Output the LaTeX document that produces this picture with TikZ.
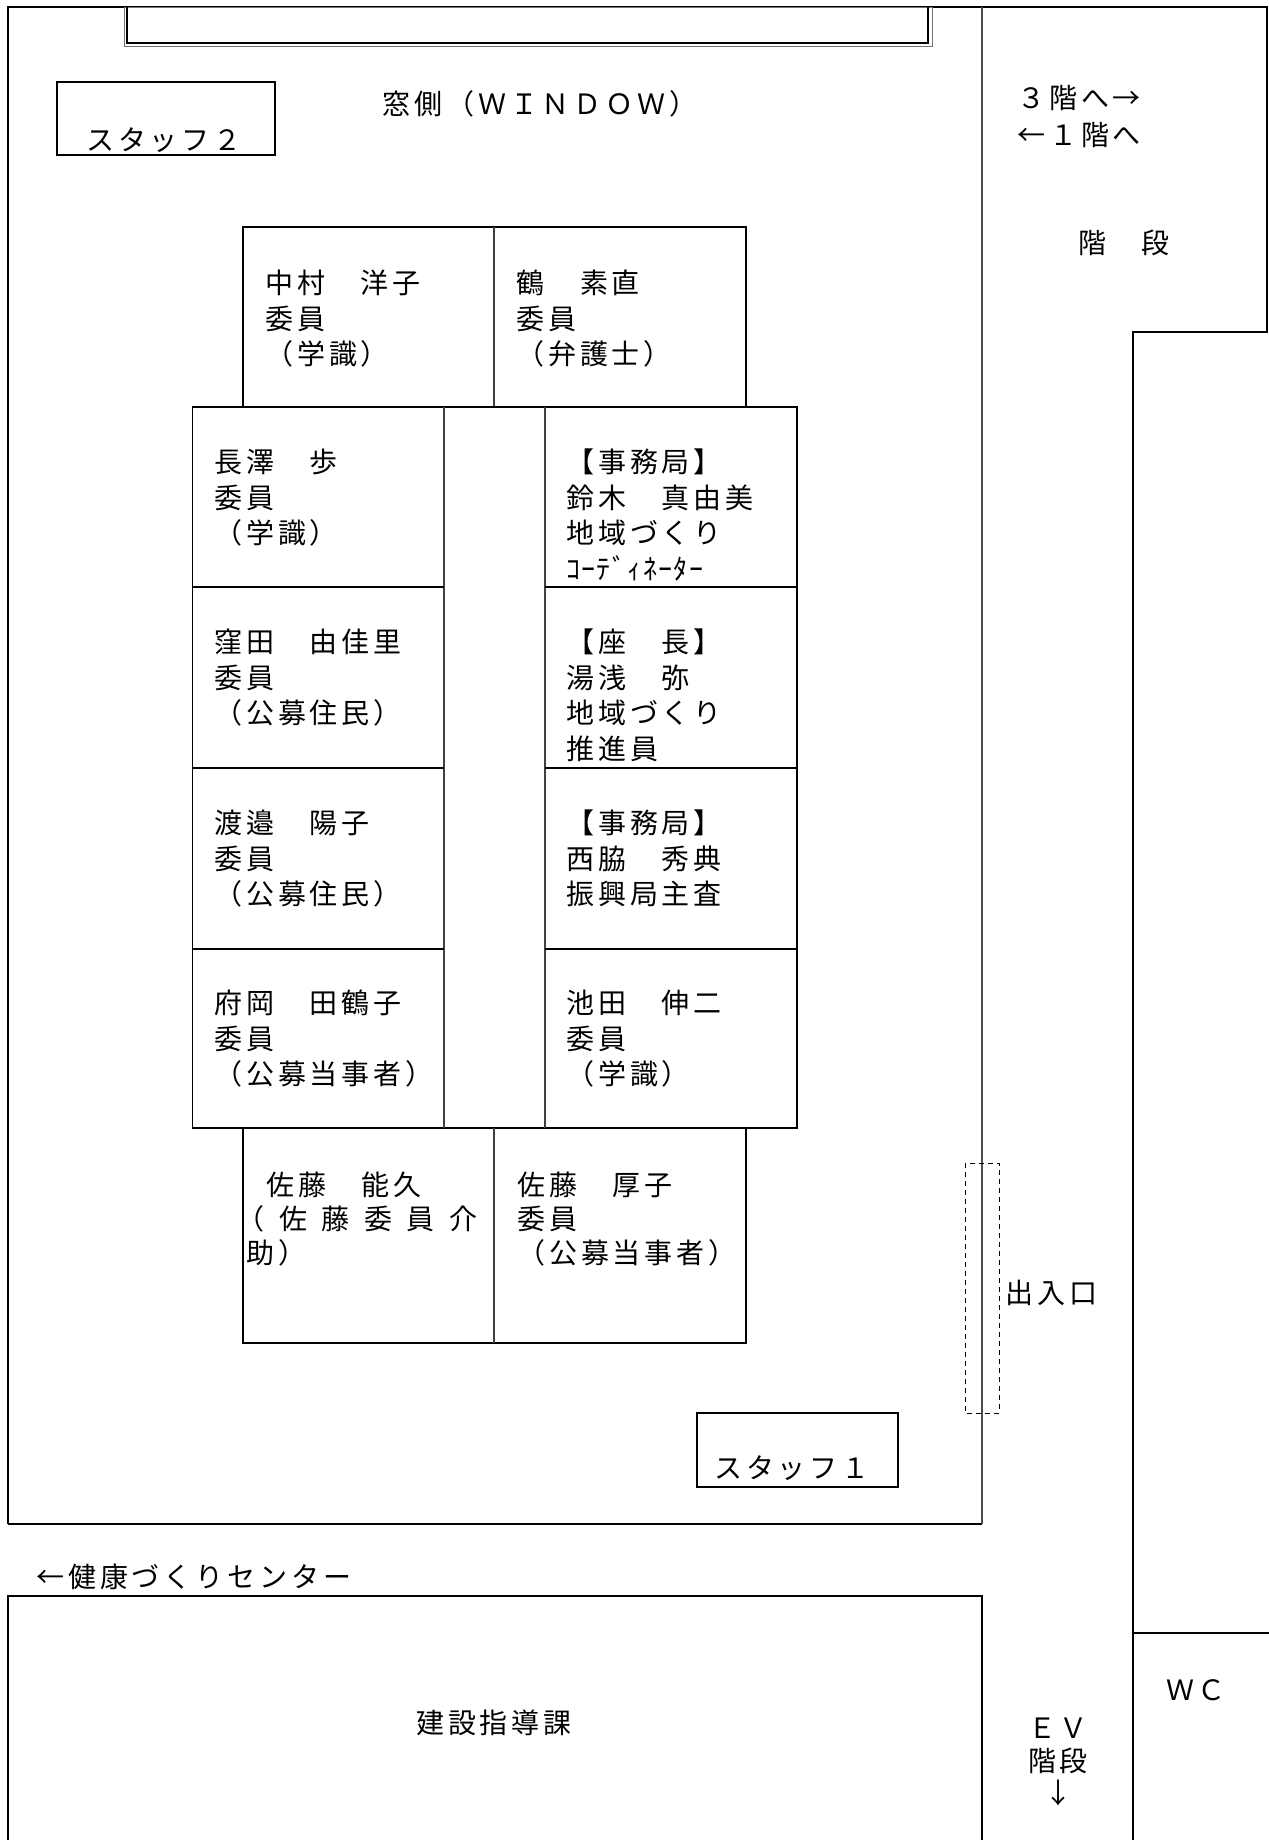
\documentclass[tikz,border=0pt]{standalone}
\usepackage{fontspec}
\setmainfont{Noto Sans CJK JP}[LetterSpace=14]
\newcommand{\seatstrut}{\rule{0pt}{24.7pt}}
\begin{document}
\begin{tikzpicture}[x=1pt,y=-1pt,
  wall/.style={line width=1.6pt,black},
  wallg/.style={line width=1.6pt,black!70},
  tbl/.style={line width=1.6pt,black},
  tbldiv/.style={line width=1.2pt,black!75},
  seat/.style={font=\fontsize{28}{35.5}\selectfont,align=left,anchor=north west,inner sep=0pt},
  lbl/.style={font=\fontsize{28}{32}\selectfont,inner sep=0pt,anchor=center}]
\useasboundingbox[fill=white] (0,0) rectangle (1269,1840);

% walls of the room and the corridor
\draw[wall] (8,1524) -- (8,7) -- (1267,7) -- (1267,332) -- (1133,332) -- (1133,1840);
\draw[line width=2.6pt] (1267,7) -- (1267,43);
\draw[wall] (8,1524) -- (982,1524);
\draw[wallg] (982,7) -- (982,1524);
\draw[wall] (8,1840) -- (8,1596) -- (982,1596) -- (982,1840);
\draw[wall] (1133,1633) -- (1269,1633);

% window box (double frame)
\draw[line width=0.8pt,black!55] (124,7) rectangle (932,46);
\draw[line width=1.6pt] (127,7) -- (127,43) -- (928,43) -- (928,7);

% staff boxes
\draw[wall] (57,82) rectangle (275,155);
\draw[wall] (697,1413) rectangle (898,1487);

% entrance
\draw[line width=1pt,dash pattern=on 5pt off 4pt] (965,1163) rectangle (999,1413);

% tables: top row
\draw[tbl] (243,407) -- (243,227) -- (746,227) -- (746,407);
\draw[tbldiv] (494,227) -- (494,407);
% middle block
\draw[tbl] (192.5,407) rectangle (797,1128);
\draw[tbldiv] (444,407) -- (444,1128);
\draw[tbldiv] (545,407) -- (545,1128);
\foreach \yy in {587,768,949} {
  \draw[tbl] (192.5,\yy) -- (444,\yy);
  \draw[tbl] (545,\yy) -- (797,\yy);
}
% bottom row
\draw[tbl] (243,1128) -- (243,1343) -- (746,1343) -- (746,1128);
\draw[tbldiv] (494,1128) -- (494,1343);

% seat texts
\node[seat] (nakamura) at (265,269) {\seatstrut 中村　洋子\\委員\\（学識）};
\node[seat] (tsuru) at (516,269) {\seatstrut 鶴　素直\\委員\\（弁護士）};
\node[seat] (nagasawa) at (214,448) {\seatstrut 長澤　歩\\委員\\（学識）};
\node[seat] (kubota) at (214,628) {\seatstrut 窪田　由佳里\\委員\\（公募住民）};
\node[seat] (watanabe) at (214,809) {\seatstrut 渡邉　陽子\\委員\\（公募住民）};
\node[seat] (fuoka) at (214,989) {\seatstrut 府岡　田鶴子\\委員\\（公募当事者）};
\node[seat] (suzuki) at (566,448) {\seatstrut 【事務局】\\鈴木　真由美\\地域づくり\\{\addfontfeature{LetterSpace=5}ｺｰﾃﾞｨﾈｰﾀｰ}};
\node[seat] (yuasa) at (566,628) {\seatstrut 【座　長】\\湯浅　弥\\地域づくり\\推進員};
\node[seat] (nishiwaki) at (566,809) {\seatstrut 【事務局】\\西脇　秀典\\振興局主査};
\node[seat] (ikeda) at (566,989) {\seatstrut 池田　伸二\\委員\\（学識）};
\node[seat,font=\fontsize{28}{34}\selectfont] (satoy) at (246,1171) {\seatstrut\hspace*{20pt}佐藤　能久\\\hspace*{-10pt}（\hspace{15pt}佐\hspace{14.5pt}藤\hspace{14.5pt}委\hspace{14.5pt}員\hspace{14.5pt}介\\助）};
\node[seat,font=\fontsize{28}{34}\selectfont] (satoa) at (517,1171) {\seatstrut 佐藤　厚子\\委員\\（公募当事者）};

% labels
\node[lbl] (staff2) at (164,140) {スタッフ２};
\node[lbl] (staff1) at (792,1468) {スタッフ１};
\node[lbl] (window) at (540,104) {窓側（ＷＩＮＤＯＷ）};
\node[seat,font=\fontsize{28}{37}\selectfont] (updown) at (1017,84) {\seatstrut ３階へ→\\←１階へ};
\node[lbl] (stairs) at (1124,243) {階　段};
\node[lbl,anchor=west] (entrance) at (1005,1293) {出入口};
\node[lbl,anchor=west] (center) at (36,1577) {←健康づくりセンター};
\node[lbl] (kensetsu) at (494,1723) {建設指導課};
\node[seat,anchor=north,align=center,font=\fontsize{28}{32.5}\selectfont] (ev) at (1058,1714) {\seatstrut ＥＶ\\階段\\↓};
\node[lbl] (wc) at (1196,1690) {ＷＣ};
\end{tikzpicture}
\end{document}
